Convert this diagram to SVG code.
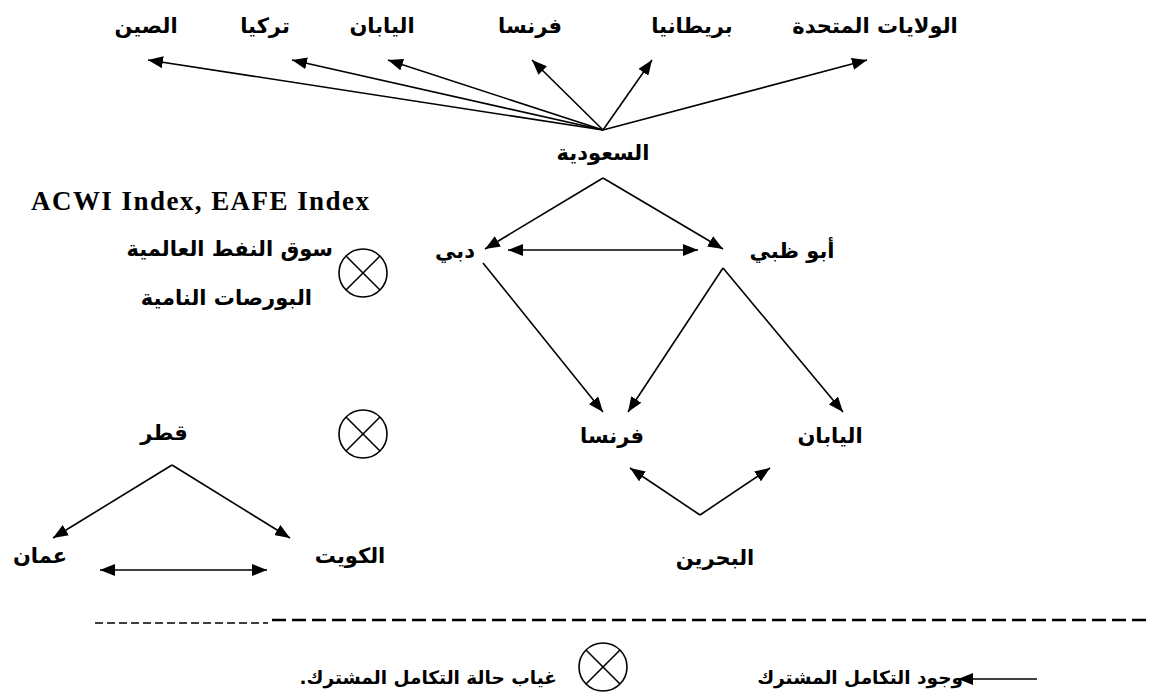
<svg xmlns="http://www.w3.org/2000/svg" width="1152" height="695" viewBox="0 0 1152 695">
  <style>
    .ar { font-family: "DejaVu Sans", sans-serif; font-weight: bold; font-size: 21px; fill: #000; text-anchor: middle; }
    .en { font-family: "Liberation Serif", serif; font-weight: bold; font-size: 27px; fill: #000; }
    .lg { font-family: "DejaVu Sans", sans-serif; font-weight: bold; font-size: 18.5px; fill: #000; }
    .ln { stroke: #000; stroke-width: 1.6; fill: none; }
    .arr { marker-end: url(#head); }
    .both { marker-start: url(#head); marker-end: url(#head); }
    .otimes circle, .otimes line { stroke: #000; stroke-width: 1.6; fill: none; }
  </style>
  <defs>
    <marker id="head" markerUnits="userSpaceOnUse" markerWidth="16" markerHeight="12" refX="15" refY="6" orient="auto-start-reverse">
      <path d="M0,0 L15,6 L0,12 z" fill="#000"/>
    </marker>
    <g id="ox" class="otimes">
      <circle cx="0" cy="0" r="24"/>
      <line x1="-17" y1="-17" x2="17" y2="17"/>
      <line x1="17" y1="-17" x2="-17" y2="17"/>
    </g>
  </defs>
  <rect width="1152" height="695" fill="#fff"/>

  <!-- connectors -->
  <g id="connectors" class="ln">
    <!-- Saudi Arabia to world markets -->
    <line class="arr" x1="603" y1="130" x2="148" y2="60"/>
    <line class="arr" x1="603" y1="130" x2="292" y2="60"/>
    <line class="arr" x1="603" y1="130" x2="388" y2="60"/>
    <line class="arr" x1="603" y1="130" x2="532" y2="60"/>
    <line class="arr" x1="603" y1="130" x2="652" y2="60"/>
    <line class="arr" x1="603" y1="130" x2="867" y2="60"/>
    <!-- Saudi Arabia to Dubai / Abu Dhabi -->
    <line class="arr" x1="603" y1="178" x2="485" y2="249"/>
    <line class="arr" x1="603" y1="178" x2="723" y2="249"/>
    <line class="both" x1="508" y1="250" x2="698" y2="250"/>
    <!-- Dubai / Abu Dhabi to France / Japan -->
    <line class="arr" x1="483" y1="263" x2="603" y2="412"/>
    <line class="arr" x1="723" y1="268" x2="628" y2="412"/>
    <line class="arr" x1="723" y1="268" x2="843" y2="412"/>
    <!-- Bahrain -->
    <line class="arr" x1="700" y1="515" x2="630" y2="468"/>
    <line class="arr" x1="700" y1="515" x2="770" y2="468"/>
    <!-- Qatar -->
    <line class="arr" x1="172" y1="465" x2="53" y2="538"/>
    <line class="arr" x1="172" y1="465" x2="290" y2="538"/>
    <line class="both" x1="100" y1="570" x2="267" y2="570"/>
  </g>

  <!-- top row -->
  <g id="china"><text class="ar" x="146" y="33">الصين</text></g>
  <g id="turkey"><text class="ar" x="265" y="33">تركيا</text></g>
  <g id="japan-top"><text class="ar" x="382" y="33">اليابان</text></g>
  <g id="france-top"><text class="ar" x="530" y="33">فرنسا</text></g>
  <g id="britain"><text class="ar" x="692" y="33">بريطانيا</text></g>
  <g id="usa"><text class="ar" x="875" y="33">الولايات المتحدة</text></g>

  <g id="saudi"><text class="ar" x="603" y="160">السعودية</text></g>

  <!-- no-cointegration block -->
  <g id="indices">
    <text class="en" x="31" y="210" textLength="338" lengthAdjust="spacing">ACWI Index, EAFE Index</text>
    <text class="ar" x="333" y="256" style="text-anchor:end">سوق النفط العالمية</text>
    <text class="ar" x="312" y="305" style="text-anchor:end">البورصات النامية</text>
    <use href="#ox" x="363" y="273"/>
  </g>

  <g id="dubai"><text class="ar" x="455" y="258">دبي</text></g>
  <g id="abudhabi"><text class="ar" x="792" y="258">أبو ظبي</text></g>
  <g id="france"><text class="ar" x="612" y="443">فرنسا</text></g>
  <g id="japan"><text class="ar" x="830" y="443">اليابان</text></g>
  <g id="bahrain"><text class="ar" x="715" y="565">البحرين</text></g>

  <g id="qatar"><text class="ar" x="164" y="440">قطر</text></g>
  <g id="qatar-otimes"><use href="#ox" x="363" y="434"/></g>
  <g id="oman"><text class="ar" x="40" y="563">عمان</text></g>
  <g id="kuwait"><text class="ar" x="350" y="563">الكويت</text></g>

  <!-- separator -->
  <g id="separator">
    <line x1="95" y1="623" x2="268" y2="623" stroke="#000" stroke-width="1.5" stroke-dasharray="8 4"/>
    <line x1="272" y1="620" x2="1152" y2="620" stroke="#000" stroke-width="2.5" stroke-dasharray="14 6"/>
  </g>

  <!-- legend -->
  <g id="legend">
    <use href="#ox" x="603" y="667"/>
    <text class="lg" x="557" y="684" direction="rtl" style="text-anchor:start">غياب حالة التكامل المشترك.</text>
    <text class="lg" x="963" y="684" style="text-anchor:end">وجود التكامل المشترك</text>
    <line class="ln arr" x1="1037" y1="679" x2="958" y2="679"/>
  </g>
</svg>
